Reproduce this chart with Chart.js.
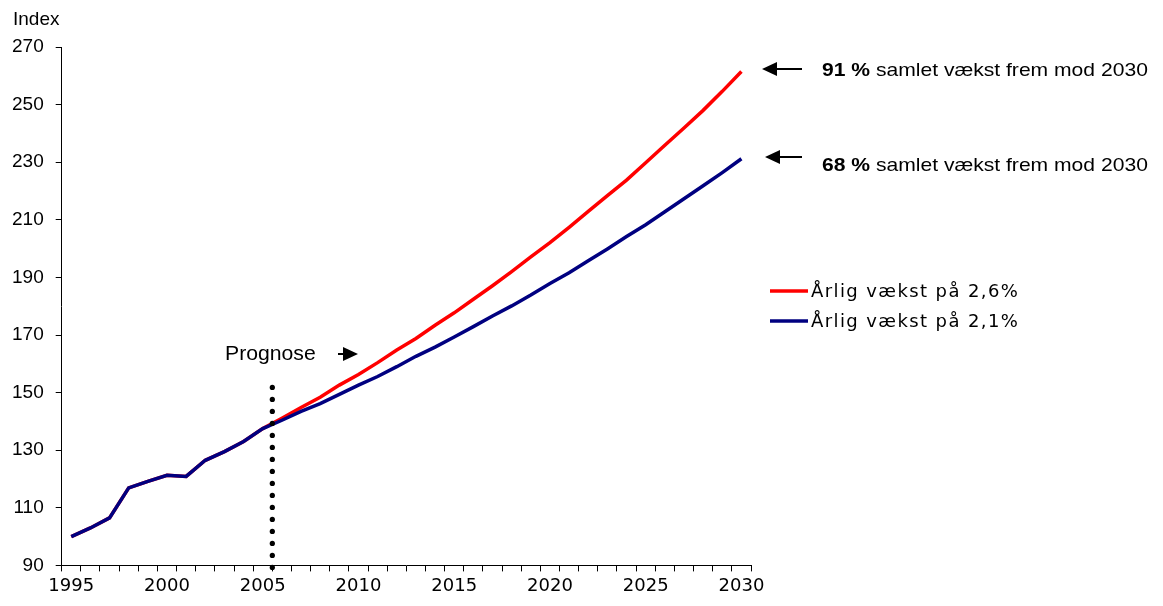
<!DOCTYPE html>
<html>
<head>
<meta charset="utf-8">
<script src="https://cdn.jsdelivr.net/npm/chart.js@4"></script>
<style>
  html, body { margin: 0; padding: 0; background: #fff; }
  #wrap { width: 1163px; height: 606px; position: relative; }
</style>
</head>
<body>
<div id="wrap"><canvas id="chart" width="1163" height="606"></canvas></div>
<script>
// years on the x axis
const years = [1995, 1996, 1997, 1998, 1999, 2000, 2001, 2002, 2003, 2004, 2005,
  2006, 2007, 2008, 2009, 2010, 2011, 2012, 2013, 2014, 2015,
  2016, 2017, 2018, 2019, 2020, 2021, 2022, 2023, 2024, 2025,
  2026, 2027, 2028, 2029, 2030];

// index values (1995 = 100)
const growth26 = [100, 103, 106.5, 116.9, 119.2, 121.3, 120.9, 126.5, 129.5, 133, 137.5,
  141.1, 144.8, 148.4, 152.6, 156.3, 160.4, 164.8, 168.8, 173.4, 177.7,
  182.4, 187.1, 192, 197.1, 202.1, 207.4, 212.9, 218.4, 223.8, 229.8,
  235.9, 241.9, 248, 254.6, 261.5];
const growth21 = [100, 103, 106.5, 116.9, 119.2, 121.3, 120.9, 126.5, 129.5, 133, 137.5,
  140.4, 143.5, 146.2, 149.4, 152.6, 155.6, 159, 162.6, 165.8, 169.3,
  172.9, 176.6, 180.1, 183.9, 187.9, 191.6, 195.8, 199.9, 204.2, 208.3,
  212.8, 217.3, 221.8, 226.4, 231.2];

const seriesLabels = ["Årlig vækst på 2,6%", "Årlig vækst på 2,1%"];
const seriesColors = ["#ff0000", "#000080"];
const yTicks = [90, 110, 130, 150, 170, 190, 210, 230, 250, 270];

// annotation texts
const totalGrowth = ["91 %", "68 %"];
const growthText = " samlet vækst frem mod 2030";
const forecastLabel = "Prognose";
const forecastFrom = 2005; // dotted line sits between this year and the next

function arrow(ctx, x1, x2, y, headLeft) {
  // shaft from x1 to x2, head at the left (headLeft) or right end
  ctx.save();
  ctx.strokeStyle = "#000";
  ctx.fillStyle = "#000";
  ctx.lineWidth = 2;
  ctx.beginPath();
  if (headLeft) {
    ctx.moveTo(x1 + 12, y);
    ctx.lineTo(x2, y);
    ctx.stroke();
    ctx.beginPath();
    ctx.moveTo(x1, y);
    ctx.lineTo(x1 + 15, y - 7);
    ctx.lineTo(x1 + 15, y + 7);
  } else {
    ctx.moveTo(x1, y);
    ctx.lineTo(x2 - 12, y);
    ctx.stroke();
    ctx.beginPath();
    ctx.moveTo(x2, y);
    ctx.lineTo(x2 - 15, y - 7);
    ctx.lineTo(x2 - 15, y + 7);
  }
  ctx.closePath();
  ctx.fill();
  ctx.restore();
}

const extras = {
  id: "extras",
  afterDraw(chart) {
    const ctx = chart.ctx;
    const x = chart.scales.x;
    const y = chart.scales.y;

    // dotted line marking the start of the forecast
    const i = years.indexOf(forecastFrom);
    const lx = (x.getPixelForValue(i) + x.getPixelForValue(i + 1)) / 2;
    ctx.save();
    ctx.fillStyle = "#000";
    for (let py = y.getPixelForValue(90) + 2; py >= y.getPixelForValue(152); py -= 12) {
      ctx.beginPath();
      ctx.arc(lx, py, 2.6, 0, Math.PI * 2);
      ctx.fill();
    }
    ctx.restore();

    ctx.save();
    ctx.fillStyle = "#000";
    ctx.textBaseline = "middle";

    // y axis title
    ctx.font = "19px 'Liberation Sans', Arial, sans-serif";
    ctx.textAlign = "left";
    ctx.fillText("Index", 13, 20);

    // Prognose label + arrow
    ctx.font = "20px 'Liberation Sans', Arial, sans-serif";
    ctx.save();
    ctx.translate(225, 354);
    ctx.scale(1.06, 1);
    ctx.fillText(forecastLabel, 0, 0);
    ctx.restore();
    arrow(ctx, 338, 358, 354, false);

    // growth notes at the right (text is a little stretched in the original)
    const rows = [69, 157];
    const textRows = [71, 166];
    for (let k = 0; k < 2; k++) {
      arrow(ctx, k === 0 ? 762 : 765, 802, rows[k], true);
      ctx.save();
      ctx.translate(822, textRows[k]);
      ctx.scale(1.11, 1);
      ctx.font = "bold 19px 'Liberation Sans', Arial, sans-serif";
      ctx.fillText(totalGrowth[k], 0, 0);
      const w = ctx.measureText(totalGrowth[k]).width;
      ctx.font = "19px 'Liberation Sans', Arial, sans-serif";
      ctx.fillText(growthText, w, 0);
      ctx.restore();
    }

    // legend
    const legY = [291, 321];
    ctx.font = "18px 'DejaVu Sans', Verdana, sans-serif";
    ctx.letterSpacing = "1.4px";
    for (let k = 0; k < 2; k++) {
      ctx.strokeStyle = seriesColors[k];
      ctx.lineWidth = 3.5;
      ctx.beginPath();
      ctx.moveTo(770, legY[k]);
      ctx.lineTo(808, legY[k]);
      ctx.stroke();
      ctx.fillText(seriesLabels[k], 811, legY[k] + 1);
    }
    ctx.restore();
  }
};

new Chart(document.getElementById("chart"), {
  type: "line",
  data: {
    labels: years,
    datasets: [
      {
        label: seriesLabels[1],
        data: growth21,
        borderColor: seriesColors[1],
        borderWidth: 3.5,
        pointRadius: 0,
        tension: 0,
      },
      {
        label: seriesLabels[0],
        data: growth26,
        borderColor: seriesColors[0],
        borderWidth: 3.5,
        pointRadius: 0,
        tension: 0,
      },
    ],
  },
  options: {
    responsive: false,
    animation: false,
    events: [],
    layout: { padding: { left: 0, right: 412, top: 47, bottom: 5 } },
    plugins: {
      legend: { display: false },
      tooltip: { enabled: false },
    },
    scales: {
      x: {
        type: "category",
        offset: true,
        border: { display: true, color: "#000", width: 1 },
        grid: {
          offset: true,
          drawOnChartArea: false,
          drawTicks: true,
          tickLength: 6,
          color: "#000",
        },
        ticks: {
          autoSkip: false,
          maxRotation: 0,
          padding: 4,
          color: "#000",
          font: { family: "'DejaVu Sans', Verdana, sans-serif", size: 18 },
          callback: function (value, index) {
            return years[index] % 5 === 0 ? String(years[index]) : "";
          },
        },
      },
      y: {
        min: 90,
        max: 270,
        afterBuildTicks: (axis) => {
          axis.ticks = yTicks.map((v) => ({ value: v }));
        },
        border: { display: true, color: "#000", width: 1 },
        grid: {
          drawOnChartArea: false,
          drawTicks: true,
          tickLength: 6,
          color: "#000",
        },
        ticks: {
          padding: 12,
          color: "#000",
          font: { family: "'Liberation Sans', Arial, sans-serif", size: 19 },
        },
      },
    },
  },
  plugins: [extras],
});
</script>
</body>
</html>
